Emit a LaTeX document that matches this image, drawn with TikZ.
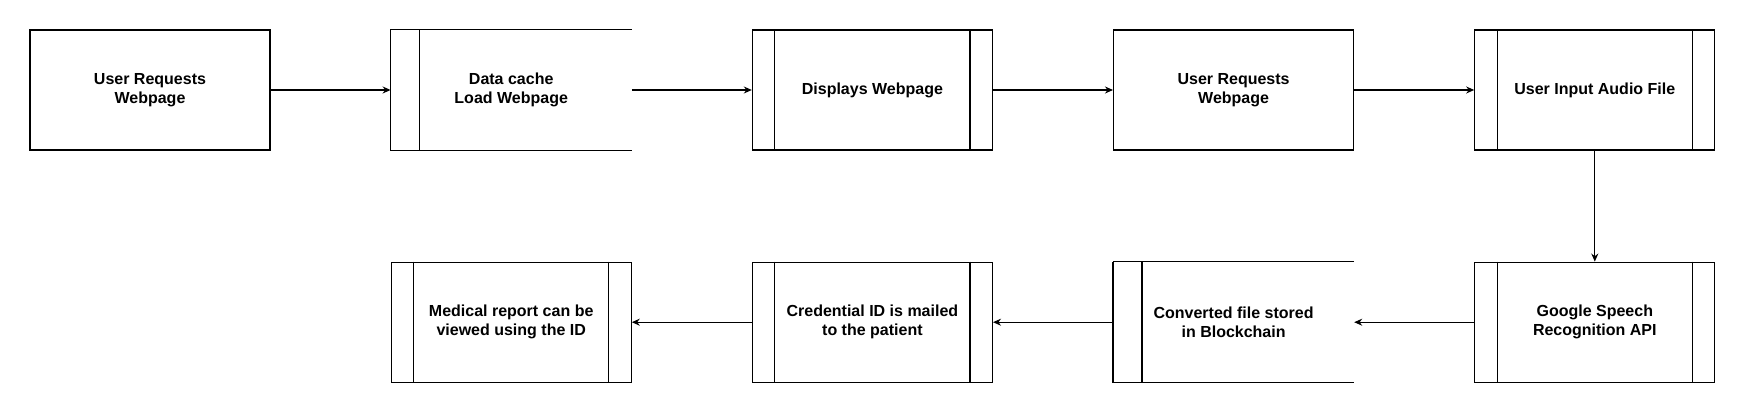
\documentclass[tikz,border=0pt]{standalone}
\usepackage{fontspec}
\setmainfont{Liberation Sans}
\usetikzlibrary{positioning,arrows.meta}

\tikzset{
	box/.style={minimum width=120pt, minimum height=60pt, inner sep=0pt, align=center,
		font=\bfseries\fontsize{8}{9.5}\selectfont},
	plainbox/.style={box, draw},
	procbox/.style={box, draw, append after command={
		([xshift=11.5pt]\tikzlastnode.north west) edge[draw] ([xshift=11.5pt]\tikzlastnode.south west)
		([xshift=-11.5pt]\tikzlastnode.north east) edge[draw] ([xshift=-11.5pt]\tikzlastnode.south east)}},
	openbox/.style={box, append after command={
		(\tikzlastnode.north east) edge[draw] (\tikzlastnode.north west)
		(\tikzlastnode.north west) edge[draw] (\tikzlastnode.south west)
		(\tikzlastnode.south west) edge[draw] (\tikzlastnode.south east)
		([xshift=14.5pt]\tikzlastnode.north west) edge[draw] ([xshift=14.5pt]\tikzlastnode.south west)}},
	flow/.style={-{Stealth[length=4pt,width=3.5pt]}}
}

\begin{document}
\begin{tikzpicture}[line width=0.6pt, node distance=60pt]
		\useasboundingbox (0,0) rectangle (870.5pt,-205.5pt);

		% top row
		\node[plainbox] (request) at (75pt,-45pt) {User Requests\\Webpage};
		\node[openbox, right=of request] (cache) {Data cache\\Load Webpage};
		\node[procbox, right=of cache] (display) {Displays Webpage};
		\node[plainbox, right=of display] (request2) {User Requests\\Webpage};
		\node[procbox, right=of request2] (audio) {User Input Audio File};

		% bottom row
		\node[procbox, below=55.5pt of audio] (speech) {Google Speech\\Recognition API};
		\node[openbox, left=of speech] (chain) {Converted file stored\\ in Blockchain};
		\node[procbox, left=of chain] (mail) {Credential ID is mailed\\to the patient};
		\node[procbox, left=of mail] (report) {Medical report can be\\viewed using the ID};

		\draw[flow] (request) -- (cache);
		\draw[flow] (cache) -- (display);
		\draw[flow] (display) -- (request2);
		\draw[flow] (request2) -- (audio);
		\draw[flow] (audio) -- (speech);
		\draw[flow] (speech) -- (chain);
		\draw[flow] (chain) -- (mail);
		\draw[flow] (mail) -- (report);
	\end{tikzpicture}
\end{document}
